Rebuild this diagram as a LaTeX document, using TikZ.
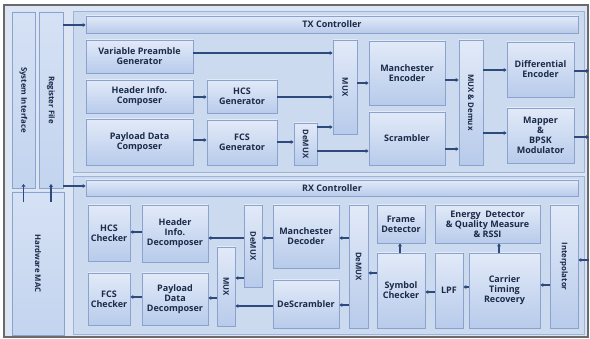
\documentclass[tikz,border=0pt]{standalone}
\usepackage{fontspec}
\setmainfont{Open Sans}
\usepackage{graphicx}
\usetikzlibrary{arrows.meta}
\definecolor{framegray}{HTML}{6A6A6A}
\definecolor{bgblue}{HTML}{DCE5F4}
\definecolor{regfill}{HTML}{CCDAF0}
\definecolor{regdraw}{HTML}{9DB3DA}
\definecolor{colfill}{HTML}{C3D4EF}
\definecolor{boxtop}{HTML}{E2EAF8}
\definecolor{boxbot}{HTML}{B8CBEB}
\definecolor{boxdraw}{HTML}{8AA2CC}
\definecolor{linecol}{HTML}{2E4A7C}
\definecolor{txtcol}{HTML}{1B2A48}
\tikzset{
  box/.style={draw=boxdraw,line width=0.8pt,top color=boxtop,bottom color=boxbot,
    align=center,inner sep=1pt,text=txtcol,font=\fontsize{9}{10}\selectfont\bfseries},
  vbox/.style={box,font=\fontsize{7.8}{9}\selectfont\bfseries},
  colbox/.style={draw=boxdraw,line width=0.8pt,top color=boxtop!60!colfill,bottom color=colfill,text=txtcol,
    font=\fontsize{7.8}{9}\selectfont\bfseries},
  conn/.style={draw=linecol,line width=1.8pt,-{Stealth[length=3pt,width=4pt]}},
}
\newcommand\mkbox[7][]{%
  \node[box,#1,minimum width={(#5-#3)*1pt},minimum height={(#6-#4)*1pt}] (#2)
    at ({(#3+#5)/2},{(#4+#6)/2}) {#7};}
\newcommand\vt[1]{\rotatebox{-90}{#1}}
\begin{document}
\begin{tikzpicture}[x=1pt,y=-1pt]
\useasboundingbox (0,0) rectangle (590,339);
\fill[white] (0,0) rectangle (590,339);
% outer frame
\draw[framegray,line width=1.6pt,fill=bgblue] (4,5) rectangle (588,337);
% regions
\draw[regdraw,line width=0.8pt,fill=regfill] (73,11) rectangle (584,172);
\draw[regdraw,line width=0.8pt,fill=regfill] (73,176) rectangle (584,334);
% left columns
\mkbox[colbox]{si}{12}{12}{35}{188}{\vt{System Interface}}
\mkbox[colbox]{rf}{39}{12}{63}{188}{\vt{Register File}}
\mkbox[colbox]{hw}{12}{192}{64}{335}{\vt{Hardware MAC}}
\coordinate (edge) at (589,0);
% TX
\mkbox{txc}{86}{16}{578}{33}{TX Controller}
\mkbox{vpg}{86}{40}{193}{73}{Variable Preamble\\Generator}
\mkbox{hic}{86}{80}{193}{113}{Header Info.\\Composer}
\mkbox{pdc}{86}{119}{193}{165}{Payload Data\\Composer}
\mkbox{hcsg}{207}{80}{277}{113}{HCS\\Generator}
\mkbox{fcsg}{207}{120}{277}{165}{FCS\\Generator}
\mkbox[vbox]{tdemux}{294}{123}{317}{165}{\vt{DeMUX}}
\mkbox[vbox]{tmux}{333}{40}{357}{134}{\vt{MUX}}
\mkbox{menc}{369}{41}{445}{105}{Manchester\\Encoder}
\mkbox{scr}{369}{112}{445}{165}{Scrambler}
\mkbox[vbox]{mxd}{459}{40}{483}{165}{\vt{MUX \& Demux}}
\mkbox{denc}{507}{42}{574}{97}{Differential\\Encoder}
\mkbox{map}{507}{108}{574}{163}{Mapper\\\&\\BPSK\\Modulator}
% RX
\mkbox{rxc}{86}{180}{578}{196}{RX Controller}
\mkbox{hcsc}{88}{205}{130}{261}{HCS\\Checker}
\mkbox{hid}{142}{205}{208}{262}{Header\\Info.\\Decomposer}
\mkbox{fcsc}{88}{273}{130}{325}{FCS\\Checker}
\mkbox{pdd}{142}{273}{208}{325}{Payload\\Data\\Decomposer}
\mkbox[vbox]{rmux}{217}{247}{235}{326}{\vt{MUX}}
\mkbox[vbox]{rdemux}{244}{205}{262}{287}{\vt{DeMUX}}
\mkbox{mdec}{273}{205}{339}{268}{Manchester\\Decoder}
\mkbox{dscr}{273}{280}{339}{328}{DeScrambler}
\mkbox[vbox]{rdemuxb}{349}{205}{368}{328}{\vt{DeMUX}}
\mkbox{fdet}{377}{205}{425}{243}{Frame\\Detector}
\mkbox{symc}{377}{253}{425}{328}{Symbol\\Checker}
\mkbox{lpf}{435}{253}{463}{328}{LPF}
\mkbox{edet}{435}{205}{540}{243}{Energy\enspace Detector\\\& Quality Measure\\\& RSSI}
\mkbox{ctr}{469}{253}{540}{328}{Carrier\\Timing\\Recovery}
\mkbox[vbox]{interp}{550}{205}{578}{328}{\vt{Interpolator}}
% left connectors
\draw[conn] (rf.east |- 0,25) -- (txc.west |- 0,25);
\draw[conn] (rf.east |- 0,186) -- (rxc.west |- 0,186);
\draw[conn] (si.south |- 0,202) -- (si.south |- 0,184);
\draw[conn] (rf.south |- 0,202) -- (rf.south |- 0,184);
% TX connectors
\draw[conn] (vpg.east |- 0,53) -- (tmux.west |- 0,53);
\draw[conn] (hic.east |- 0,97) -- (hcsg.west |- 0,97);
\draw[conn] (hcsg.east |- 0,97) -- (tmux.west |- 0,97);
\draw[conn] (pdc.east |- 0,140) -- (fcsg.west |- 0,140);
\draw[conn] (fcsg.east |- 0,142) -- (tdemux.west |- 0,142);
\draw[conn] (tdemux.east |- 0,127) -- (tmux.west |- 0,127);
\draw[conn] (tdemux.east |- 0,151) -- (scr.west |- 0,151);
\draw[conn] (tmux.east |- 0,83) -- (menc.west |- 0,83);
\draw[conn] (menc.east |- 0,80) -- (mxd.west |- 0,80);
\draw[conn] (scr.east |- 0,149) -- (mxd.west |- 0,149);
\draw[conn] (mxd.east |- 0,70) -- (denc.west |- 0,70);
\draw[conn] (mxd.east |- 0,133) -- (map.west |- 0,133);
\draw[conn] (denc.east |- 0,71) -- (edge |- 0,71);
\draw[conn] (map.east |- 0,137) -- (edge |- 0,137);
% RX connectors
\draw[conn] (edge |- 0,260) -- (interp.east |- 0,260);
\draw[conn] (interp.west |- 0,285) -- (ctr.east |- 0,285);
\draw[conn] (ctr.west |- 0,287) -- (lpf.east |- 0,287);
\draw[conn] (lpf.west |- 0,292) -- (symc.east |- 0,292);
\draw[conn] (ctr.north -| 499,0) -- (edet.south -| 499,0);
\draw[conn] (symc.north -| 400,0) -- (fdet.south -| 400,0);
\draw[conn] (symc.west |- 0,273) -- (rdemuxb.east |- 0,273);
\draw[conn] (rdemuxb.west |- 0,238) -- (mdec.east |- 0,238);
\draw[conn] (rdemuxb.west |- 0,305) -- (dscr.east |- 0,305);
\draw[conn] (mdec.west |- 0,238) -- (rdemux.east |- 0,238);
\draw[conn] (rdemux.west |- 0,238) -- (hid.east |- 0,238);
\draw[conn] (rdemux.west |- 0,278) -- (rmux.east |- 0,278);
\draw[conn] (dscr.west |- 0,306) -- (rmux.east |- 0,306);
\draw[conn] (rmux.west |- 0,298) -- (pdd.east |- 0,298);
\draw[conn] (hid.west |- 0,232) -- (hcsc.east |- 0,232);
\draw[conn] (pdd.west |- 0,297) -- (fcsc.east |- 0,297);
\end{tikzpicture}
\end{document}
